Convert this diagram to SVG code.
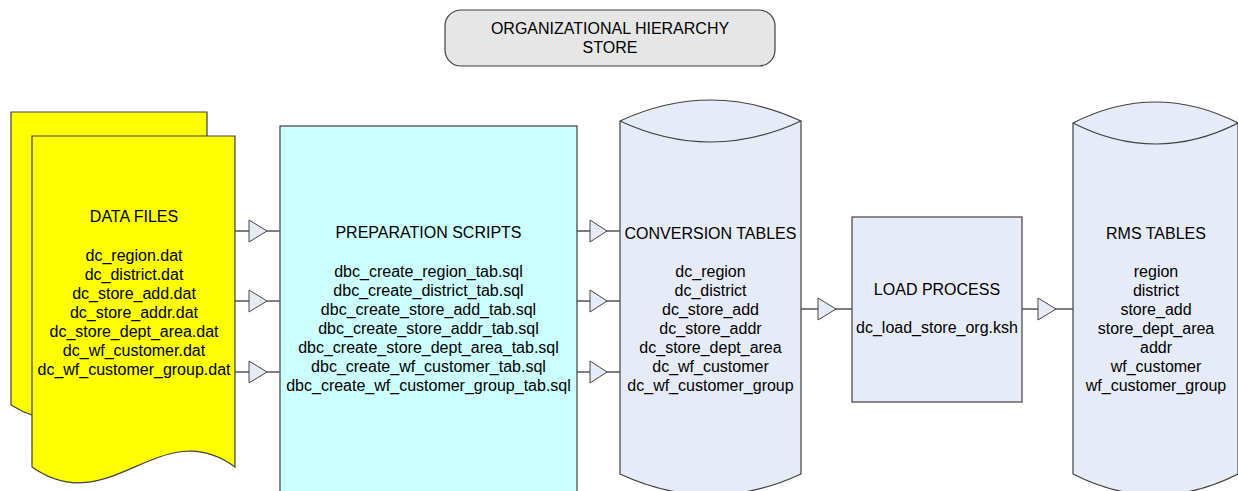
<svg xmlns="http://www.w3.org/2000/svg" width="1238" height="491" viewBox="0 0 1238 491">
<defs>
<style>
text{font-family:"Liberation Sans",Arial,sans-serif;font-size:16px;fill:#000;text-anchor:middle}
.shape{stroke:#404040;stroke-width:1.2}
.cyl{fill:#e6ecf7}
.conn line{stroke:#555;stroke-width:1.3}
.conn polygon{fill:#e6ecf7;stroke:#444;stroke-width:1}
</style>
</defs>
<rect width="1238" height="491" fill="#fff"/>
<g id="title">
<rect class="shape" x="445" y="10" width="330" height="56" rx="16" fill="#e6e6e6"/>
<text x="610" y="34">ORGANIZATIONAL HIERARCHY</text>
<text x="610" y="53">STORE</text>
</g>
<g id="data-files">
<path class="shape" fill="#ffff00" d="M11,112 H207 V405 C138,352 90,455 11,405 Z"/>
<path class="shape" fill="#ffff00" d="M32,136 H235 V467 C160,412 110,522 32,467 Z"/>
<text x="134" y="222">DATA FILES</text>
<text x="134" y="261">dc_region.dat</text>
<text x="134" y="280">dc_district.dat</text>
<text x="134" y="299">dc_store_add.dat</text>
<text x="134" y="318">dc_store_addr.dat</text>
<text x="134" y="337">dc_store_dept_area.dat</text>
<text x="134" y="356">dc_wf_customer.dat</text>
<text x="134" y="375">dc_wf_customer_group.dat</text>
</g>
<g id="preparation-scripts">
<rect class="shape" x="280" y="126" width="297" height="380" fill="#ccffff"/>
<text x="428.5" y="238">PREPARATION SCRIPTS</text>
<text x="428.5" y="277">dbc_create_region_tab.sql</text>
<text x="428.5" y="296">dbc_create_district_tab.sql</text>
<text x="428.5" y="315">dbc_create_store_add_tab.sql</text>
<text x="428.5" y="334">dbc_create_store_addr_tab.sql</text>
<text x="428.5" y="353">dbc_create_store_dept_area_tab.sql</text>
<text x="428.5" y="372">dbc_create_wf_customer_tab.sql</text>
<text x="428.5" y="391">dbc_create_wf_customer_group_tab.sql</text>
</g>
<g id="conversion-tables">
<path class="shape cyl" d="M620,121 Q710.5,79 801,121 V474 Q710.5,516 620,474 Z"/>
<path class="shape" fill="none" d="M620,121 Q710.5,163 801,121"/>
<text x="710.5" y="239">CONVERSION TABLES</text>
<text x="710.5" y="277">dc_region</text>
<text x="710.5" y="296">dc_district</text>
<text x="710.5" y="315">dc_store_add</text>
<text x="710.5" y="334">dc_store_addr</text>
<text x="710.5" y="353">dc_store_dept_area</text>
<text x="710.5" y="372">dc_wf_customer</text>
<text x="710.5" y="391">dc_wf_customer_group</text>
</g>
<g id="load-process">
<rect class="shape" x="852" y="217" width="170" height="185" fill="#e6ecf7"/>
<text x="937" y="295">LOAD PROCESS</text>
<text x="937" y="333">dc_load_store_org.ksh</text>
</g>
<g id="rms-tables">
<path class="shape cyl" d="M1073,123 Q1155.5,81 1238,123 V474 Q1155.5,516 1073,474 Z"/>
<path class="shape" fill="none" d="M1073,123 Q1155.5,165 1238,123"/>
<text x="1156" y="239">RMS TABLES</text>
<text x="1156" y="277">region</text>
<text x="1156" y="296">district</text>
<text x="1156" y="315">store_add</text>
<text x="1156" y="334">store_dept_area</text>
<text x="1156" y="353">addr</text>
<text x="1156" y="372">wf_customer</text>
<text x="1156" y="391">wf_customer_group</text>
</g>
<g id="connectors" class="conn">
<line x1="235" y1="231" x2="280" y2="231"/><polygon points="249,220 267,231 249,242"/>
<line x1="235" y1="301" x2="280" y2="301"/><polygon points="249,290 267,301 249,312"/>
<line x1="235" y1="372" x2="280" y2="372"/><polygon points="249,361 267,372 249,383"/>
<line x1="577" y1="231" x2="620" y2="231"/><polygon points="590,220 607,231 590,242"/>
<line x1="577" y1="301" x2="620" y2="301"/><polygon points="590,290 607,301 590,312"/>
<line x1="577" y1="372" x2="620" y2="372"/><polygon points="590,361 607,372 590,383"/>
<line x1="801" y1="309" x2="852" y2="309"/><polygon points="818,298 836,309 818,320"/>
<line x1="1022" y1="309" x2="1073" y2="309"/><polygon points="1038,298 1056,309 1038,320"/>
</g>
</svg>
